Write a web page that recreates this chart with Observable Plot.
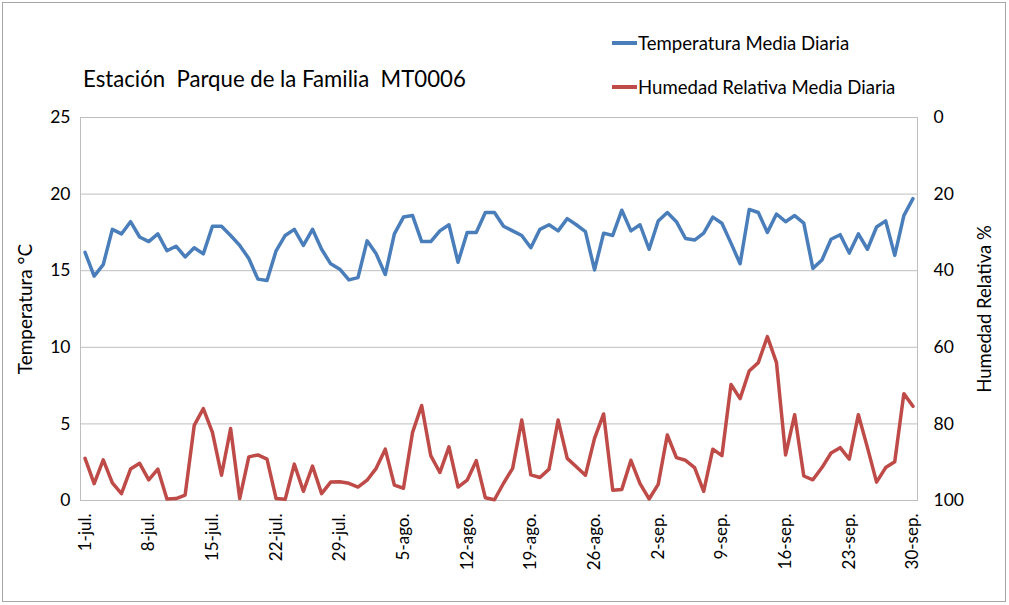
<!DOCTYPE html>
<html><head><meta charset="utf-8">
<script src="https://cdn.jsdelivr.net/npm/d3@7"></script>
<script src="https://cdn.jsdelivr.net/npm/@observablehq/plot@0.6"></script>
<style>
body{margin:0;background:#fff;font-family:Lato,"Open Sans",sans-serif;}
#wrap{position:relative;width:1009px;height:605px;overflow:hidden;background:#fff;}
#border{position:absolute;left:2px;top:2px;width:1004px;height:600px;border:1px solid #a6a6a6;box-sizing:border-box;}
#chart{position:absolute;left:0;top:0;}
.title{position:absolute;left:83px;top:65px;font-size:22.2px;color:#000;white-space:nowrap;}
.leg{position:absolute;left:612px;font-size:18.6px;display:flex;align-items:center;white-space:nowrap;color:#000;}
.sw{width:25px;height:4px;margin-right:1px;}
</style></head>
<body>
<div id="wrap">
  <div id="border"></div>
  <div id="chart"></div>
  <div class="title">Estación&nbsp; Parque de la Familia&nbsp; MT0006</div>
  <div class="leg" style="top:32px"><div class="sw" style="background:#4a7ebb"></div>Temperatura Media Diaria</div>
  <div class="leg" style="top:76px"><div class="sw" style="background:#be4b48"></div>Humedad Relativa Media Diaria</div>
</div>
<script>
// Temperatura media diaria (°C), 1-jul a 30-sep
const temperatura = [
  16.2,14.65,15.4,17.7,17.4,18.2,17.2,16.9,17.4,16.3,16.6,15.9,16.5,16.1,17.9,17.9,17.3,16.65,15.8,14.45,14.36,16.3,17.3,17.7,16.65,17.7,16.4,15.45,15.1,14.4,14.55,
  16.95,16.1,14.75,17.4,18.5,18.6,16.9,16.9,17.6,18.0,15.55,17.5,17.5,18.8,18.8,17.9,17.6,17.3,16.5,17.7,18.0,17.6,18.4,18.0,17.55,15.05,17.45,17.3,18.95,17.6,18.0,
  16.4,18.25,18.8,18.2,17.1,17.0,17.45,18.5,18.1,16.8,15.45,19.0,18.8,17.5,18.7,18.2,18.6,18.1,15.15,15.7,17.05,17.35,16.15,17.4,16.4,17.85,18.25,16.0,18.6,19.7
];
// Humedad relativa media diaria (%)
const humedad = [
  89.0,95.6,89.4,95.4,98.2,91.8,90.3,94.6,91.8,99.6,99.5,98.6,80.4,76.0,82.2,93.4,81.2,99.5,88.6,88.1,89.2,99.5,99.7,90.5,97.6,91.0,98.2,95.2,95.1,95.5,96.5,
  94.7,91.6,86.6,96.0,96.8,82.2,75.2,88.3,92.7,86.0,96.5,94.7,89.6,99.3,99.8,95.5,91.6,79.0,93.3,94.0,91.8,79.0,89.0,91.2,93.4,83.8,77.4,97.3,97.1,89.5,95.6,
  99.6,95.8,82.9,88.8,89.5,91.4,97.6,86.6,88.3,69.7,73.4,66.2,64.0,57.2,64.0,88.1,77.6,93.6,94.6,91.4,87.6,86.2,89.2,77.6,86.2,95.2,91.4,89.9,72.1,75.4
];
const startDate = [2013, 6, 1];
const meses = ["ene.","feb.","mar.","abr.","may.","jun.","jul.","ago.","sep.","oct.","nov.","dic."];
const yTicks = [0, 5, 10, 15, 20, 25];
const tempMax = 25;

const start = new Date(Date.UTC(...startDate));
const fechas = temperatura.map((_, i) => d3.utcDay.offset(start, i));
const rows = fechas.map((f, i) => ({fecha: f, t: temperatura[i], h: humedad[i]}));
const xTicks = fechas.filter((_, i) => i % 7 === 0);
const fmt = d => `${d.getUTCDate()}-${meses[d.getUTCMonth()]}`;
const half = 12 * 3600 * 1000;

const chart = Plot.plot({
  width: 1009, height: 605,
  marginLeft: 80, marginRight: 92, marginTop: 117, marginBottom: 105,
  style: {fontFamily: "Lato, 'Open Sans', sans-serif", fontSize: "17px", color: "#000", background: "transparent"},
  x: {type: "utc", domain: [new Date(+fechas[0] - half), new Date(+fechas[fechas.length - 1] + half)]},
  y: {domain: [0, tempMax]},
  marks: [
    Plot.gridY(yTicks, {stroke: "#bfbfbf", strokeOpacity: 1, strokeWidth: 1}),
    Plot.frame({stroke: "#bfbfbf", strokeWidth: 1}),
    Plot.axisY(yTicks, {anchor: "left", tickSize: 0, tickPadding: 10, label: null, fontSize: 17.5}),
    Plot.axisY(yTicks, {anchor: "right", tickSize: 0, tickPadding: 16, label: null, fontSize: 17.5, tickFormat: d => 100 - 4 * d}),
    Plot.axisX(xTicks, {tickFormat: fmt, tickRotate: -90, tickSize: 0, tickPadding: 13, label: null, fontSize: 17}),
    Plot.line(rows, {x: "fecha", y: "t", stroke: "#4a7ebb", strokeWidth: 3.5, curve: "linear"}),
    Plot.line(rows, {x: "fecha", y: d => tempMax * (1 - d.h / 100), stroke: "#be4b48", strokeWidth: 3.5, curve: "linear"}),
    Plot.text(["Temperatura °C"], {text: d => d, frameAnchor: "left", textAnchor: "middle", y: () => 12.5, dx: -55, rotate: -90, fontSize: 19, fill: "#000"}),
    Plot.text(["Humedad Relativa %"], {text: d => d, frameAnchor: "right", textAnchor: "middle", y: () => 12.5, dx: 68, rotate: -90, fontSize: 18.5, fill: "#000"})
  ]
});
document.getElementById("chart").appendChild(chart);
</script>
</body></html>
